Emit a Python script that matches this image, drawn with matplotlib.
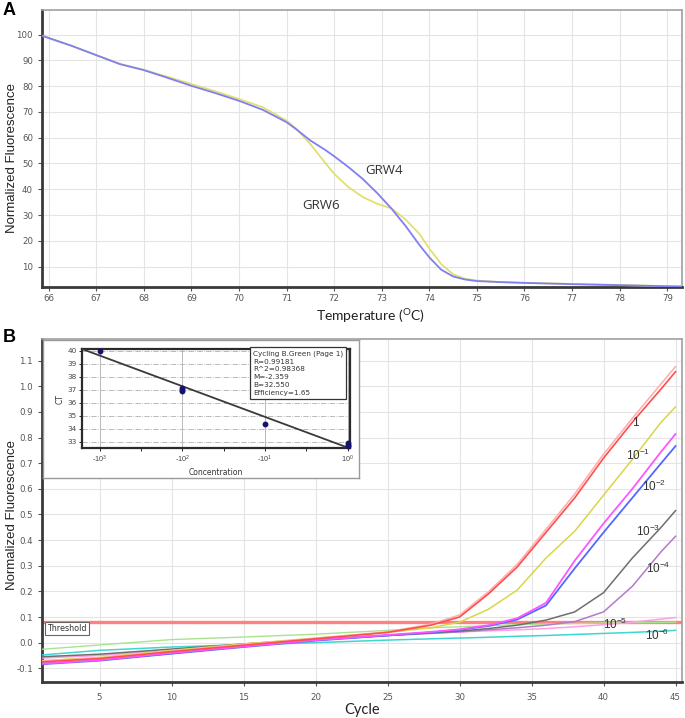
import matplotlib
matplotlib.use("Agg")
import matplotlib.pyplot as plt

plt.rcParams["font.family"] = ["Liberation Sans", "DejaVu Sans"]
plt.rcParams["mathtext.fontset"] = "custom"
plt.rcParams["mathtext.rm"] = "Liberation Sans"
plt.rcParams["mathtext.default"] = "regular"

# ---- panel A: melting curves ----
TEMP = [65.85, 66.5, 67.0, 67.5, 68.0, 68.5, 69.0, 69.5, 70.0, 70.5, 71.0, 71.2,
        71.5, 71.8, 72.0, 72.3, 72.6, 72.9, 73.2, 73.5, 73.8, 74.0, 74.25, 74.5,
        74.75, 75.0, 75.5, 76.0, 77.0, 78.0, 79.0, 79.3]
GRW4 = [99.6, 95.5, 92.0, 88.5, 86.2, 83.2, 80.1, 77.3, 74.3, 70.8, 66.0, 63.3,
        58.9, 55.4, 52.8, 48.6, 44.0, 38.6, 32.6, 25.8, 18.2, 13.6, 8.8, 6.2,
        5.0, 4.4, 4.0, 3.7, 3.2, 2.8, 2.4, 2.3]
GRW6 = [99.6, 95.5, 92.0, 88.6, 86.3, 83.6, 80.8, 78.0, 75.0, 71.8, 66.6, 63.6,
        57.5, 50.5, 46.0, 40.8, 37.0, 34.4, 32.6, 28.3, 22.5, 17.0, 11.0, 7.0,
        5.3, 4.6, 4.0, 3.7, 3.3, 2.9, 2.4, 2.3]

# ---- panel B: amplification curves ----
CYCLES = [1, 5, 10, 15, 20, 25, 28, 30, 32, 34, 36, 38, 40, 42, 44, 45]
AMP_1_LIGHT = [-0.072, -0.060, -0.033, -0.008, 0.017, 0.042, 0.072, 0.108, 0.198, 0.305, 0.442, 0.580, 0.735, 0.875, 1.010, 1.077]
AMP_1 = [-0.075, -0.062, -0.035, -0.010, 0.015, 0.040, 0.068, 0.100, 0.190, 0.295, 0.430, 0.565, 0.720, 0.860, 0.990, 1.057]
AMP_1E1 = [-0.070, -0.058, -0.030, -0.005, 0.018, 0.040, 0.058, 0.080, 0.130, 0.205, 0.330, 0.435, 0.575, 0.715, 0.860, 0.920]
AMP_1E2_A = [-0.082, -0.068, -0.040, -0.015, 0.010, 0.030, 0.042, 0.052, 0.068, 0.095, 0.155, 0.320, 0.465, 0.600, 0.745, 0.814]
AMP_1E2_B = [-0.084, -0.070, -0.043, -0.017, 0.008, 0.028, 0.040, 0.050, 0.065, 0.090, 0.145, 0.290, 0.430, 0.565, 0.700, 0.767]
AMP_1E3 = [-0.055, -0.045, -0.025, -0.005, 0.012, 0.028, 0.038, 0.045, 0.055, 0.068, 0.088, 0.120, 0.195, 0.330, 0.450, 0.515]
AMP_1E4 = [-0.080, -0.068, -0.042, -0.015, 0.010, 0.028, 0.036, 0.042, 0.050, 0.058, 0.068, 0.082, 0.120, 0.220, 0.355, 0.415]
AMP_1E5 = [-0.060, -0.050, -0.030, -0.005, 0.015, 0.030, 0.038, 0.042, 0.046, 0.050, 0.055, 0.062, 0.070, 0.080, 0.092, 0.098]
AMP_1E6 = [-0.048, -0.030, -0.017, -0.008, 0.000, 0.010, 0.015, 0.018, 0.021, 0.025, 0.028, 0.032, 0.036, 0.040, 0.045, 0.048]
AMP_NTC = [-0.026, -0.009, 0.012, 0.022, 0.033, 0.048, 0.058, 0.062, 0.066, 0.070, 0.073, 0.075, 0.077, 0.078, 0.079, 0.080]
THRESHOLD = 0.082

CURVE_LABELS = ["1", "10$^{-1}$", "10$^{-2}$", "10$^{-3}$", "10$^{-4}$", "10$^{-5}$", "10$^{-6}$"]
LABEL_X = [42.2, 42.4, 43.5, 43.1, 43.8, 40.8, 43.7]
LABEL_Y = [0.858, 0.732, 0.608, 0.436, 0.288, 0.071, 0.030]

# ---- inset: standard curve ----
LOG_CONC = [-3, -2, -2, -2, -1, 0, 0, 0]
CT = [40.0, 37.15, 37.0, 36.92, 34.37, 32.9, 32.78, 32.68]
FIT_M = -2.359
FIT_B = 32.550
INSET_XTICKS = [-3, -2, -1, 0]
INSET_XTICK_LABELS = ["-10$^{3}$", "-10$^{2}$", "-10$^{1}$", "10$^{0}$"]
FIT_TEXT = ["Cycling B.Green (Page 1)", "R=0.99181", "R^2=0.98368",
            "M=-2.359", "B=32.550", "Efficiency=1.65"]

W, H = 685, 718
TICK_GRAY = "#555555"
GRID = "#e4e4e4"


def px_rect(left, top, right, bottom):
    return [left / W, 1 - bottom / H, (right - left) / W, (bottom - top) / H]


def style_axes(ax):
    for side in ("left", "bottom"):
        ax.spines[side].set_linewidth(2.0)
        ax.spines[side].set_color("#3a3a3a")
    for side in ("top", "right"):
        ax.spines[side].set_linewidth(1.2)
        ax.spines[side].set_color("#a0a0a0")
    ax.tick_params(labelsize=6.2, labelcolor=TICK_GRAY, length=3, width=0.8,
                   color="#555555")
    for lab in ax.get_xticklabels() + ax.get_yticklabels():
        lab.set_family("DejaVu Sans")
    ax.grid(True, color=GRID, lw=0.8)
    ax.set_axisbelow(True)


def draw_melt(fig):
    ax = fig.add_axes(px_rect(42, 9.5, 682, 287))
    ax.plot(TEMP, GRW6, color="#e2df72", lw=1.3, zorder=3)
    ax.plot(TEMP, GRW4, color="#7f7ff2", lw=1.3, zorder=4)
    ax.set_xlim(65.86, 79.31)
    ax.set_ylim(2.1, 109.7)
    ax.set_xticks(range(66, 80))
    ax.set_yticks(range(10, 101, 10))
    style_axes(ax)
    ax.tick_params(axis="x", pad=2)
    ax.text(73.05, 47.1, "GRW4", fontsize=9.5, color="#333333", ha="center",
            va="center", family="Open Sans")
    ax.text(71.73, 33.8, "GRW6", fontsize=9.5, color="#333333", ha="center",
            va="center", family="Open Sans")

    fig.text(3 / W, 1 - 2 / H, "A", fontsize=13, fontweight="bold", va="top")
    fig.text(12 / W, 1 - 158 / H, "Normalized Fluorescence", rotation=90,
             fontsize=9.5, ha="center", va="center", color="#222222")
    fig.text(370 / W, 1 - 316 / H, "Temperature ($^{O}$C)", fontsize=10,
             ha="center", va="center", family="Lato", color="#222222")


def draw_amplification(fig):
    ax = fig.add_axes(px_rect(42, 339.3, 682, 681.7))
    series = [
        (AMP_NTC, "#a9e38f", 1.0),
        (AMP_1E6, "#3fd6cf", 1.1),
        (AMP_1E5, "#ff9fe4", 1.1),
        (AMP_1E4, "#b27bc9", 1.1),
        (AMP_1E3, "#6e6e6e", 1.1),
        (AMP_1E2_B, "#5468ff", 1.3),
        (AMP_1E2_A, "#ff55ff", 1.3),
        (AMP_1E1, "#d9d646", 1.1),
        (AMP_1_LIGHT, "#ffb0b0", 1.2),
        (AMP_1, "#ff4d4d", 1.2),
    ]
    for values, color, lw in series:
        ax.plot(CYCLES, values, color=color, lw=lw, zorder=3)
    ax.axhline(THRESHOLD, color="#ff8080", lw=2.4, zorder=2)

    for label, x, y in zip(CURVE_LABELS, LABEL_X, LABEL_Y):
        ax.text(x, y, label, fontsize=8.5, color="#333333", ha="center",
                va="center", zorder=5)

    ax.text(1.35, 0.057, "Threshold", fontsize=5.8, color="#333333", va="center",
            family="DejaVu Sans", zorder=5,
            bbox=dict(boxstyle="square,pad=0.25", fc="white", ec="#666666", lw=0.8))

    ax.set_xlim(1.0, 45.45)
    ax.set_ylim(-0.1523, 1.1835)
    ax.set_xticks(range(5, 46, 5))
    ax.set_yticks([round(v * 0.1, 1) for v in range(-1, 12)])
    ax.set_yticklabels([f"{round(v * 0.1, 1):.1f}" for v in range(-1, 12)])
    style_axes(ax)
    ax.tick_params(axis="x", pad=5)

    fig.text(3 / W, 1 - 329 / H, "B", fontsize=13, fontweight="bold", va="top")
    fig.text(12 / W, 1 - 515 / H, "Normalized Fluorescence", rotation=90,
             fontsize=9.5, ha="center", va="center", color="#222222")
    fig.text(362 / W, 1 - 710 / H, "Cycle", fontsize=10.5, ha="center",
             va="center", family="Lato", color="#222222")


def draw_inset(fig):
    frame = fig.add_axes(px_rect(43, 339.5, 359, 478))
    frame.set_xticks([])
    frame.set_yticks([])
    frame.set_facecolor("white")
    for spine in frame.spines.values():
        spine.set_color("#9a9a9a")
        spine.set_linewidth(1.0)
    frame.set_zorder(5)

    ax = fig.add_axes(px_rect(82.3, 349, 350, 448.3))
    ax.set_zorder(6)
    ax.set_xlim(-3.21, 0.03)
    ax.set_ylim(32.49, 40.13)
    for ct in range(33, 41):
        ax.axhline(ct, color="#b0b0b0", lw=0.6, ls="-.", zorder=1)
    for x in INSET_XTICKS:
        ax.axvline(x, color="#b8b8b8", lw=0.7, zorder=1)
    fit_x = [ax.get_xlim()[0], 0.0]
    ax.plot(fit_x, [FIT_M * x + FIT_B for x in fit_x], color="#3a3a3a", lw=1.3, zorder=3)
    ax.plot(LOG_CONC, CT, "o", color="#14146e", ms=3.2, zorder=4, clip_on=False)

    ax.set_xticks(INSET_XTICKS)
    ax.set_xticklabels(INSET_XTICK_LABELS)
    ax.set_xticks([-2.5, -1.5, -0.5], minor=True)
    ax.set_yticks(range(33, 41))
    ax.tick_params(labelsize=5.2, labelcolor="#444444", length=2.5, width=0.6, pad=1.5)
    ax.tick_params(which="minor", length=1.8, width=0.6)
    for lab in ax.get_yticklabels():
        lab.set_family("DejaVu Sans")
    for spine in ax.spines.values():
        spine.set_color("#2a2a2a")
        spine.set_linewidth(1.6)
    ax.set_xlabel("Concentration", fontsize=5.5, color="#333333", labelpad=2,
                  family="DejaVu Sans")
    ax.set_ylabel("CT", fontsize=5.5, color="#333333", labelpad=2, family="DejaVu Sans")

    ax.text(0.638, 0.985, "\n".join(FIT_TEXT), transform=ax.transAxes, fontsize=5.2,
            color="#333333", va="top", ha="left", linespacing=1.35,
            family="DejaVu Sans", zorder=6,
            bbox=dict(boxstyle="square,pad=0.45", fc="white", ec="#333333", lw=0.9))


def main() -> None:
    fig = plt.figure(figsize=(W / 100, H / 100), dpi=100)
    draw_melt(fig)
    draw_amplification(fig)
    draw_inset(fig)
    fig.savefig("out.png", dpi=100)
    plt.close(fig)


if __name__ == "__main__":
    main()
